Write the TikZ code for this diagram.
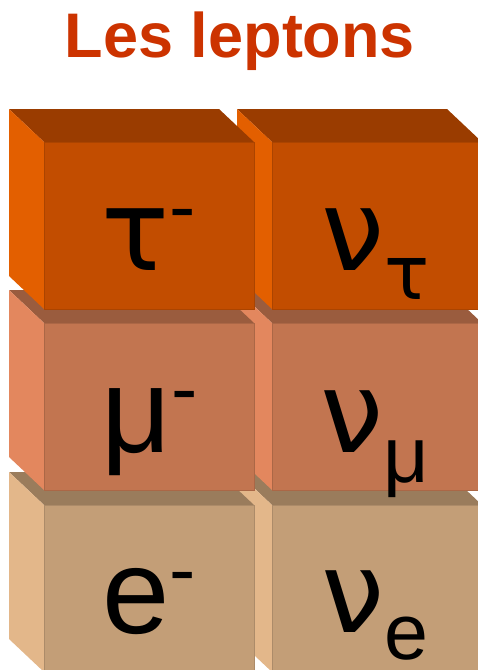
\documentclass[tikz,border=0pt]{standalone}
\usepackage{fontspec}
\setmainfont{Liberation Sans}
\newfontfamily\grec{DejaVu Sans}
\definecolor{titlered}{HTML}{CC3300}
\definecolor{facetau}{HTML}{C24D00}
\definecolor{toptau}{HTML}{9A3C00}
\definecolor{sidetau}{HTML}{E35F00}
\definecolor{facemu}{HTML}{C27550}
\definecolor{topmu}{HTML}{9A5C3E}
\definecolor{sidemu}{HTML}{E3875E}
\definecolor{facee}{HTML}{C39E77}
\definecolor{tope}{HTML}{9A7C5C}
\definecolor{sidee}{HTML}{E3B78A}
\begin{document}
\begin{tikzpicture}[x=1pt, y=-1pt,
  title/.style={font=\fontsize{63}{63}\selectfont\bfseries,
                text=titlered, anchor=base, inner sep=0pt},
  particle/.style={font=\fontsize{121}{121}\selectfont,
                   anchor=base, inner sep=0pt}
]
  \useasboundingbox (0,0) rectangle (478,670);
  \clip (0,0) rectangle (478,670);

  \node[title] (titre) at (240,57) {Les leptons};

  % blocs, du bas vers le haut, de droite a gauche
  \foreach \fy/\c in {505/e, 323/mu, 142/tau} {
    \foreach \fx in {272, 44} {
      \fill[top\c] (\fx,\fy) -- ++(-35,-33) -- ++(210,0) -- ++(35,33) -- cycle;
      \fill[side\c] (\fx,\fy) -- ++(-35,-33) -- ++(0,167) -- ++(35,33) -- cycle;
      \filldraw[fill=face\c, draw=face\c!88!black, line width=0.6pt]
        (\fx,\fy) rectangle ++(210,167);
    }
  }

  \node[particle] (tau)   at (149,270)
        {{\grec\fontsize{113}{113}\selectfont τ}\raisebox{37pt}{\fontsize{79}{79}\selectfont -}};
  \node[particle] (nutau) at (376,270)
        {{\grec\fontsize{113}{113}\selectfont ν}\raisebox{-29pt}{\grec\fontsize{75}{75}\selectfont τ}};
  \node[particle] (mu)    at (150,452)
        {μ\raisebox{37pt}{\fontsize{79}{79}\selectfont -}};
  \node[particle] (numu)  at (375,452)
        {{\grec\fontsize{113}{113}\selectfont ν}\raisebox{-30pt}{\fontsize{79}{79}\selectfont μ}};
  \node[particle] (elec)  at (149,633)
        {e\raisebox{37pt}{\fontsize{79}{79}\selectfont -}};
  \node[particle] (nue)   at (375,632)
        {{\grec\fontsize{113}{113}\selectfont ν}\raisebox{-27pt}{\fontsize{79}{79}\selectfont e}};
\end{tikzpicture}
\end{document}
